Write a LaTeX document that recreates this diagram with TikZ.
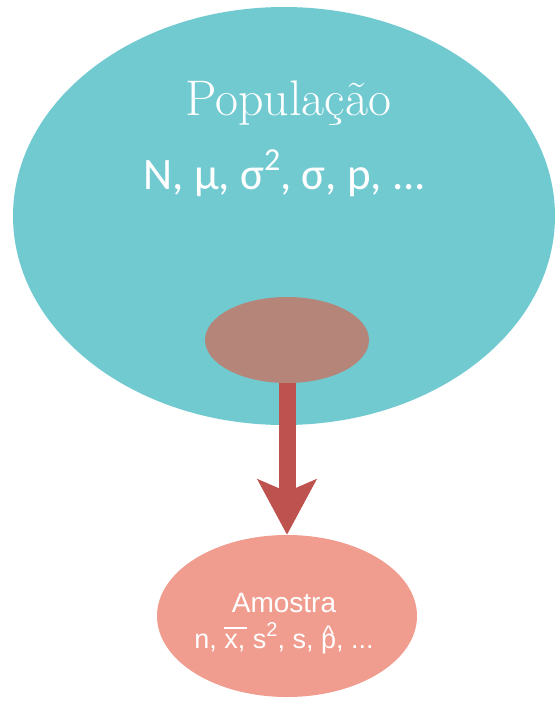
\documentclass[tikz,border=0pt]{standalone}
\usepackage{fontspec}
\usetikzlibrary{shapes.geometric,arrows.meta}
\newfontfamily\calib{Carlito}
\newfontfamily\arialf{Liberation Sans}
\definecolor{popcol}{HTML}{72CAD1}
\definecolor{subcol}{HTML}{B5857A}
\definecolor{arrcol}{HTML}{BE524E}
\definecolor{amocol}{HTML}{F09C8E}
\tikzset{
  blob/.style={ellipse, draw=none, inner sep=0pt},
  lbl/.style={text=white, anchor=base, inner sep=0pt},
  bigarrow/.style={draw=arrcol, line width=17pt, -{Stealth[length=55pt,width=58pt,inset=12pt]}}
}
\begin{document}
\begin{tikzpicture}[x=1pt,y=-1pt]
\useasboundingbox (0,0) rectangle (555,702);
\node[blob, fill=popcol, minimum width=542pt, minimum height=418pt] (pop) at (284,216) {};
\node[blob, fill=amocol, minimum width=260pt, minimum height=162pt] (amostra) at (287,616) {};
\node[blob, minimum width=164pt, minimum height=86pt] (subref) at (287,340) {};
\draw[bigarrow] (subref.center) -- (amostra.north);
\node[blob, fill=subcol, minimum width=164pt, minimum height=86pt] (sub) at (287,340) {};
\node[lbl, font=\fontsize{50}{56}\selectfont] (popname) at (288,115) {População};
\node[lbl, font=\calib\fontsize{45}{52}\selectfont] (popparams) at (285,189) {N, μ, σ\raisebox{0.42em}{\fontsize{32}{36}\selectfont 2}, σ, p, ...};
\node[lbl, font=\arialf\fontsize{28}{32}\selectfont] (amoname) at (284,612) {Amostra};
\node[lbl, font=\arialf\fontsize{27}{30}\selectfont] (amoparams) at (284,648) {n, \rlap{\raisebox{0.72em}{\rule{0.85em}{0.07em}}}x, s\raisebox{0.42em}{\fontsize{20}{22}\selectfont 2}, s, \rlap{\raisebox{0.2em}{\fontsize{24}{26}\selectfont\hspace{0.08em}\^{}}}p, ...};
\end{tikzpicture}
\end{document}
